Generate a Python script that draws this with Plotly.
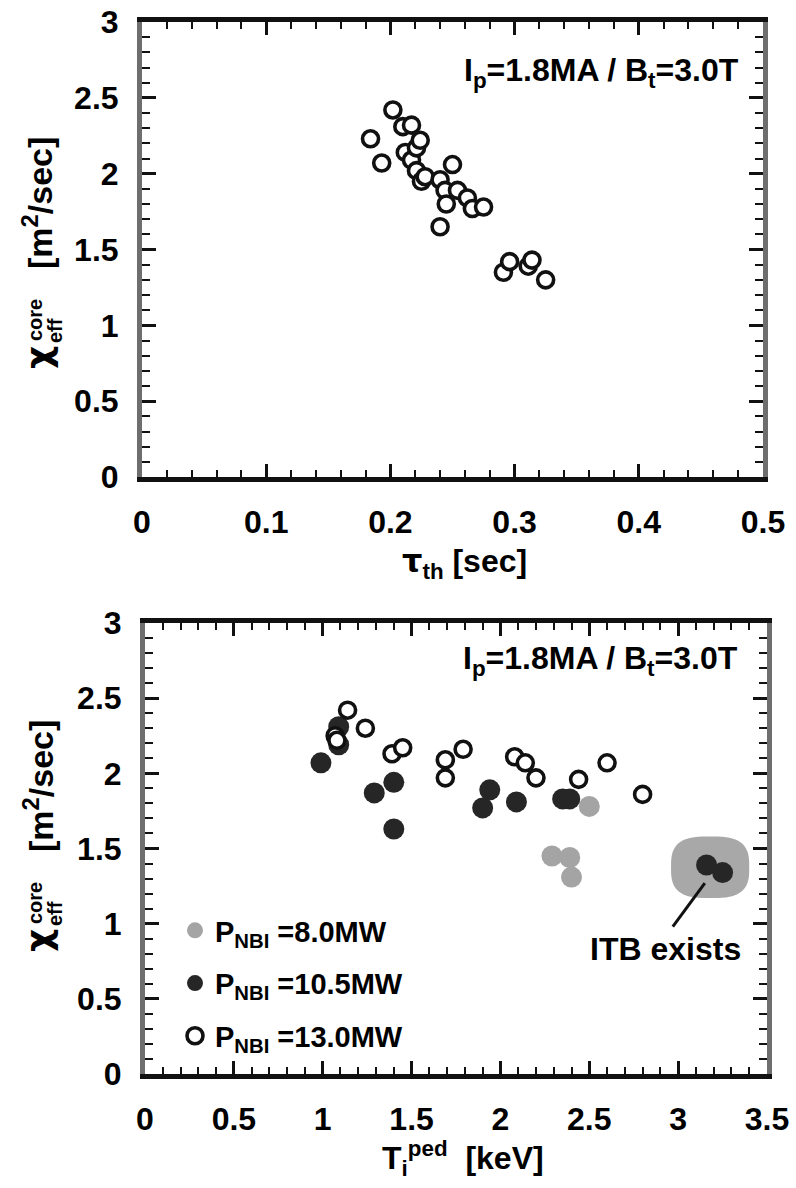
import plotly.graph_objects as go

# ---- upper panel: core effective diffusivity vs thermal energy confinement time
tau_th = [0.184, 0.193, 0.202, 0.210, 0.212, 0.217, 0.217, 0.221, 0.221, 0.224,
          0.225, 0.228, 0.240, 0.240, 0.244, 0.245, 0.250, 0.254, 0.262, 0.266,
          0.275, 0.291, 0.296, 0.311, 0.314, 0.325]
chi_tau = [2.23, 2.07, 2.42, 2.31, 2.14, 2.32, 2.09, 2.17, 2.02, 2.22,
           1.95, 1.98, 1.96, 1.65, 1.89, 1.80, 2.06, 1.89, 1.84, 1.77,
           1.78, 1.35, 1.42, 1.39, 1.43, 1.30]

# ---- lower panel: core effective diffusivity vs pedestal ion temperature
ti_8mw = [2.29, 2.39, 2.40, 2.50]
chi_8mw = [1.45, 1.44, 1.31, 1.78]

ti_105mw = [0.99, 1.09, 1.09, 1.29, 1.40, 1.40, 1.90, 1.94, 2.09, 2.35, 2.39, 3.16, 3.25]
chi_105mw = [2.07, 2.31, 2.19, 1.87, 1.94, 1.63, 1.77, 1.89, 1.81, 1.83, 1.83, 1.39, 1.34]

ti_13mw = [1.07, 1.08, 1.14, 1.24, 1.39, 1.45, 1.69, 1.69, 1.79, 2.08, 2.14, 2.20, 2.44, 2.60, 2.80]
chi_13mw = [2.25, 2.22, 2.42, 2.30, 2.13, 2.17, 2.09, 1.97, 2.16, 2.11, 2.07, 1.97, 1.96, 2.07, 1.86]

series_names = ["P<sub>NBI</sub> =8.0MW", "P<sub>NBI</sub> =10.5MW", "P<sub>NBI</sub> =13.0MW"]
plasma_label = "I<sub>p</sub>=1.8MA / B<sub>t</sub>=3.0T"

# ITB region (keV, m^2/s)
itb_box = dict(x0=2.96, x1=3.40, y0=1.17, y1=1.58)
itb_arrow = dict(x0=3.15, y0=1.27, x1=2.97, y1=0.98)
itb_text = dict(x=2.93, y=0.83, text="ITB exists")

W, H = 796, 1188
FONT = "Liberation Sans, Arial, Helvetica, sans-serif"
GREEK = "DejaVu Sans"
INK = "#111111"
STIPPLE = "#6e6e6e"


def px(xp):
    return xp / W


def py(yp):
    return 1 - yp / H


open_marker = dict(symbol="circle", size=16, color="white", line=dict(color=INK, width=3.6))
black_marker = dict(symbol="circle", size=21, color="#262626", line=dict(width=0))
gray_marker = dict(symbol="circle", size=21, color="#a4a4a4", line=dict(width=0))

fig = go.Figure()

fig.add_trace(go.Scatter(x=tau_th, y=chi_tau, mode="markers", marker=open_marker,
                         xaxis="x", yaxis="y", showlegend=False))

fig.add_trace(go.Scatter(x=ti_8mw, y=chi_8mw, mode="markers", marker=gray_marker,
                         name=series_names[0], legendgroup="a", xaxis="x2", yaxis="y2"))
fig.add_trace(go.Scatter(x=ti_105mw, y=chi_105mw, mode="markers", marker=black_marker,
                         name=series_names[1], legendgroup="b", xaxis="x2", yaxis="y2"))
fig.add_trace(go.Scatter(x=ti_13mw, y=chi_13mw, mode="markers", marker=open_marker,
                         name=series_names[2], legendgroup="c", xaxis="x2", yaxis="y2"))

# invisible copies so the overlaid label axes are laid out
fig.add_trace(go.Scatter(x=tau_th, y=chi_tau, mode="markers", marker=dict(opacity=0),
                         hoverinfo="skip", showlegend=False, xaxis="x3", yaxis="y3"))
fig.add_trace(go.Scatter(x=ti_13mw, y=chi_13mw, mode="markers", marker=dict(opacity=0),
                         hoverinfo="skip", showlegend=False, xaxis="x4", yaxis="y4"))

tick_font = dict(family=FONT, size=32, color="black", weight="bold")


def frame_x(domain, rng, dtick, minor_dtick, anchor):
    # frame line with inward major/minor ticks, no labels
    return dict(domain=domain, range=rng, anchor=anchor, dtick=dtick, tick0=0,
                showline=True, linewidth=4.5, linecolor=INK, mirror="allticks",
                ticks="inside", ticklen=13, tickwidth=2.5, tickcolor=INK,
                minor=dict(ticks="inside", ticklen=7, tickwidth=2.2, tickcolor=INK,
                           dtick=minor_dtick, tick0=0),
                showgrid=False, zeroline=False, showticklabels=False,
                automargin=False, fixedrange=True)


def frame_y(domain, anchor):
    return dict(domain=domain, range=[0, 3], anchor=anchor, dtick=0.5, tick0=0,
                showline=True, linewidth=5, linecolor=STIPPLE, mirror="allticks",
                ticks="inside", ticklen=14, tickwidth=2.5, tickcolor=INK,
                minor=dict(ticks="inside", ticklen=8, tickwidth=2.2, tickcolor=INK,
                           dtick=0.1, tick0=0),
                showgrid=False, zeroline=False, showticklabels=False,
                automargin=False, fixedrange=True)


def label_axis(base, rng, dtick, anchor, side, gap):
    # transparent outside ticks only set the distance of the labels from the frame
    return dict(overlaying=base, anchor=anchor, side=side, range=rng, dtick=dtick, tick0=0,
                showline=False, ticks="outside", ticklen=gap, tickcolor="rgba(0,0,0,0)",
                showgrid=False, zeroline=False, tickfont=tick_font,
                automargin=False, fixedrange=True)


fig.update_layout(
    width=W, height=H,
    margin=dict(l=0, r=0, t=0, b=0, autoexpand=False),
    paper_bgcolor="white", plot_bgcolor="white",
    font=dict(family=FONT, color="black"),
    xaxis=frame_x([px(142), px(763)], [0, 0.5], 0.1, 0.02, "y"),
    yaxis=frame_y([py(477), py(22)], "x"),
    xaxis2=frame_x([px(145), px(767)], [0, 3.5], 0.5, 0.1, "y2"),
    yaxis2=frame_y([py(1074), py(623)], "x2"),
    xaxis3=label_axis("x", [0, 0.5], 0.1, "y", "bottom", 17),
    yaxis3=label_axis("y", [0, 3], 0.5, "x", "left", 16),
    xaxis4=label_axis("x2", [0, 3.5], 0.5, "y2", "bottom", 17),
    yaxis4=label_axis("y2", [0, 3], 0.5, "x2", "left", 16),
    legend=dict(x=px(175), y=py(905), xanchor="left", yanchor="top",
                bgcolor="rgba(0,0,0,0)", borderwidth=0, tracegroupgap=12,
                itemsizing="trace",
                font=dict(family=FONT, size=29, color="black", weight="bold")),
)


def rounded_blob(x0, x1, y0, y1, n=3.0, steps=72):
    # superellipse outline inside the given box, as an SVG path in data units
    import math
    cx, cy = (x0 + x1) / 2, (y0 + y1) / 2
    rx, ry = (x1 - x0) / 2, (y1 - y0) / 2
    pts = []
    for k in range(steps):
        t = 2 * math.pi * k / steps
        c, s = math.cos(t), math.sin(t)
        xx = cx + rx * math.copysign(abs(c) ** (2 / n), c)
        yy = cy + ry * math.copysign(abs(s) ** (2 / n), s)
        pts.append(f"{xx:.4f},{yy:.4f}")
    return "M" + " L".join(pts) + " Z"


# ITB highlight and pointer
fig.add_shape(type="path", xref="x2", yref="y2", layer="below",
              path=rounded_blob(**itb_box), fillcolor="#a8a8a8", line=dict(width=0))
fig.add_shape(type="line", xref="x2", yref="y2", line=dict(color=INK, width=3),
              **itb_arrow)

ann = []
bold = dict(family=FONT, color="black", weight="bold")

# plasma condition labels
ann.append(dict(xref="x", yref="y", x=0.482, y=2.67, text=plasma_label, showarrow=False,
                xanchor="right", yanchor="middle", font=dict(size=32, **bold)))
ann.append(dict(xref="x2", yref="y2", x=3.35, y=2.75, text=plasma_label, showarrow=False,
                xanchor="right", yanchor="middle", font=dict(size=32, **bold)))

# ITB label
ann.append(dict(xref="x2", yref="y2", showarrow=False, xanchor="center", yanchor="middle",
                font=dict(size=32, **bold), **itb_text))

# x-axis titles
ann.append(dict(xref="paper", yref="paper", x=px(465), y=py(563),
                text=f"<span style='font-family:{GREEK}'>τ</span><sub>th</sub> [sec]",
                showarrow=False, xanchor="center", yanchor="middle",
                font=dict(size=32, **bold)))
ann.append(dict(xref="paper", yref="paper", x=px(463), y=py(1158),
                text="T<sub>i</sub><sup>ped</sup>  [keV]", showarrow=False,
                xanchor="center", yanchor="middle", font=dict(size=32, **bold)))

# y-axis titles (rotated, with stacked super/subscripts)
for dy in (0, 583):
    ann.append(dict(xref="paper", yref="paper", x=px(38), y=py(358 + dy), text="χ",
                    textangle=-90, showarrow=False, xanchor="center", yanchor="middle",
                    font=dict(size=36, family=GREEK, color="black", weight="bold")))
    ann.append(dict(xref="paper", yref="paper", x=px(35), y=py(320 + dy), text="core",
                    textangle=-90, showarrow=False, xanchor="center", yanchor="middle",
                    font=dict(size=20, **bold)))
    ann.append(dict(xref="paper", yref="paper", x=px(55), y=py(330 + dy), text="eff",
                    textangle=-90, showarrow=False, xanchor="center", yanchor="middle",
                    font=dict(size=20, **bold)))
    ann.append(dict(xref="paper", yref="paper", x=px(38), y=py(203 + dy),
                    text="[m<sup>2</sup>/sec]",
                    textangle=-90, showarrow=False, xanchor="center", yanchor="middle",
                    font=dict(size=34, **bold)))

fig.update_layout(annotations=ann)

fig.write_html("out.html")
